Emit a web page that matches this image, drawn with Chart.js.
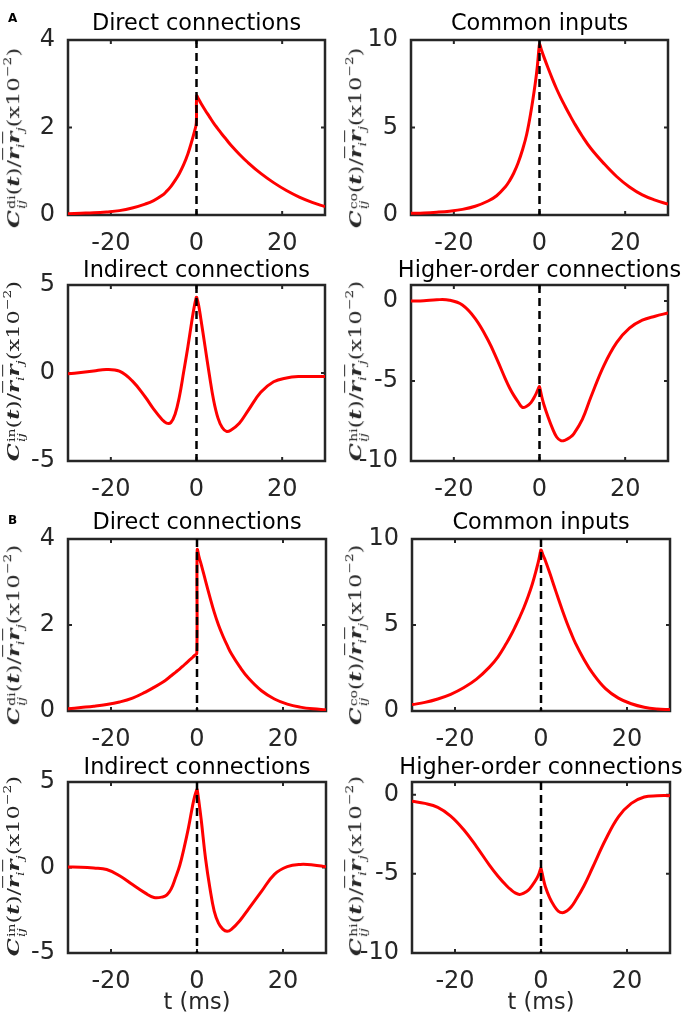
<!DOCTYPE html>
<html>
<head>
<meta charset="utf-8">
<script src="https://cdn.jsdelivr.net/npm/chart.js@4.4.1/dist/chart.umd.min.js"></script>
<style>
  html, body { margin: 0; padding: 0; background: #fff; }
  body { width: 686px; height: 1023px; position: relative; overflow: hidden; font-family: "DejaVu Sans", sans-serif; }
  canvas { position: absolute; }
  .letter { position: absolute; font: bold 12px/12px "DejaVu Sans", sans-serif; color: #000; }
  .ylab { position: absolute; white-space: nowrap; font-family: "DejaVu Serif", serif; font-size: 17px; line-height: 1; color: #262626; transform-origin: 50% 50%; }
  .ylab .bi { font-weight: bold; font-style: italic; }
  .ylab .ov { text-decoration: overline; }
  .ylab .ss { display: inline-block; vertical-align: -0.55em; font-size: 0.62em; line-height: 0.95; margin-left: 1px; }
  .ylab .ss span { display: block; }
  .ylab .it { font-style: italic; }
  .ylab .sb1 { font-size: 0.62em; font-style: italic; vertical-align: -0.45em; }
  .ylab .sp2 { font-size: 0.62em; vertical-align: 0.75em; }
</style>
</head>
<body>
<script>
// time axis (ms) and the eight curves
const tMs = [-30, -27, -24, -21, -18, -15, -12, -10, -8, -7, -6, -5, -4, -3, -2, -1, -0.5, -0.05,
             0.05, 0.5, 1, 2, 3, 4, 5, 6, 7, 8, 10, 12, 15, 18, 21, 24, 27, 30];

const aDirect   = [0.03, 0.04, 0.05, 0.07, 0.10, 0.16, 0.25, 0.33, 0.45, 0.54, 0.65, 0.79, 0.95, 1.15, 1.40, 1.72, 1.90, 2.10,
                   2.72, 2.65, 2.56, 2.40, 2.25, 2.10, 1.97, 1.84, 1.72, 1.60, 1.39, 1.20, 0.95, 0.74, 0.56, 0.41, 0.29, 0.19];
const aCommon   = [0.10, 0.12, 0.16, 0.22, 0.32, 0.50, 0.80, 1.10, 1.60, 1.95, 2.40, 2.97, 3.70, 4.60, 5.90, 7.50, 8.50, 9.70,
                   9.75, 9.40, 9.05, 8.40, 7.78, 7.20, 6.68, 6.20, 5.74, 5.30, 4.50, 3.80, 2.95, 2.20, 1.60, 1.15, 0.85, 0.62];
const aIndirect = [-0.05, 0.03, 0.12, 0.20, 0.10, -0.45, -1.35, -2.05, -2.65, -2.85, -2.82, -2.34, -1.35, 0.05, 1.50, 3.10, 3.80, 4.30,
                   4.30, 3.85, 3.10, 1.50, -0.10, -1.55, -2.55, -3.10, -3.32, -3.25, -2.85, -2.15, -1.10, -0.50, -0.28, -0.20, -0.20, -0.20];
const aHigher   = [0.00, 0.02, 0.08, 0.05, -0.25, -1.10, -2.45, -3.60, -4.85, -5.42, -5.90, -6.30, -6.65, -6.58, -6.35, -5.90, -5.62, -5.35,
                   -5.40, -5.95, -6.45, -7.25, -7.95, -8.50, -8.73, -8.70, -8.55, -8.30, -7.40, -6.00, -4.05, -2.60, -1.70, -1.20, -0.95, -0.75];
const bDirect   = [0.05, 0.08, 0.11, 0.15, 0.21, 0.30, 0.44, 0.55, 0.67, 0.74, 0.82, 0.90, 0.98, 1.07, 1.16, 1.25, 1.30, 1.34,
                   3.75, 3.57, 3.40, 3.02, 2.65, 2.30, 2.00, 1.75, 1.53, 1.33, 1.02, 0.76, 0.47, 0.28, 0.16, 0.09, 0.05, 0.03];
const bCommon   = [0.37, 0.50, 0.70, 0.97, 1.35, 1.85, 2.55, 3.15, 3.95, 4.40, 4.90, 5.43, 6.00, 6.65, 7.40, 8.30, 8.80, 9.35,
                   9.35, 9.05, 8.75, 8.05, 7.30, 6.55, 5.83, 5.15, 4.53, 3.95, 3.00, 2.20, 1.30, 0.75, 0.42, 0.22, 0.12, 0.08];
const bIndirect = [0.03, 0.02, -0.03, -0.12, -0.48, -1.00, -1.50, -1.75, -1.72, -1.60, -1.25, -0.60, 0.13, 1.15, 2.30, 3.65, 4.20, 4.55,
                   4.55, 3.75, 2.75, 0.50, -1.20, -2.55, -3.25, -3.60, -3.73, -3.62, -3.10, -2.42, -1.40, -0.40, 0.05, 0.18, 0.15, 0.04];
const bHigher   = [-0.42, -0.55, -0.80, -1.35, -2.20, -3.28, -4.45, -5.15, -5.75, -6.00, -6.20, -6.30, -6.22, -6.05, -5.72, -5.30, -5.02, -4.65,
                   -4.70, -5.25, -5.80, -6.50, -7.00, -7.35, -7.46, -7.35, -7.10, -6.70, -5.75, -4.60, -2.85, -1.40, -0.55, -0.15, -0.07, -0.06];

const xRange = [-30, 30];
const xTicks = [-20, 0, 20];
const zeroLag = 0;
const ticksDirect = [0, 2, 4];
const ticksCommon = [0, 5, 10];
const ticksIndirect = [-5, 0, 5];
const ticksHigher = [-10, -5, 0];

const panels = [
  { values: aDirect,   title: "Direct connections",       sup: "di", yMin: 0,   yMax: 4,   yTicks: ticksDirect },
  { values: aCommon,   title: "Common inputs",            sup: "co", yMin: 0,   yMax: 10,  yTicks: ticksCommon },
  { values: aIndirect, title: "Indirect connections",     sup: "in", yMin: -5,  yMax: 5,   yTicks: ticksIndirect },
  { values: aHigher,   title: "Higher-order connections", sup: "hi", yMin: -10, yMax: 1,   yTicks: ticksHigher },
  { values: bDirect,   title: "Direct connections",       sup: "di", yMin: 0,   yMax: 4,   yTicks: ticksDirect },
  { values: bCommon,   title: "Common inputs",            sup: "co", yMin: 0,   yMax: 10,  yTicks: ticksCommon },
  { values: bIndirect, title: "Indirect connections",     sup: "in", yMin: -5,  yMax: 5,   yTicks: ticksIndirect, xTitle: true },
  { values: bHigher,   title: "Higher-order connections", sup: "hi", yMin: -10, yMax: 0.8, yTicks: ticksHigher,   xTitle: true }
];

// layout: plot boxes [left, top, width, height] in page pixels
const boxes = [
  [68, 40, 257, 175], [411, 40, 257, 175],
  [68, 285, 257, 176], [411, 285, 257, 176],
  [68, 539, 258, 172], [412, 539, 258, 172],
  [68, 782, 258, 171], [412, 782, 258, 171]
];
const titleGap = [2, 2, 0, 0, 2, 2, 0, 0];
const labelShift = [10, 10, -2, -2, 10, 10, -2, -2];

const axisColor = "#262626";
const FONT = "DejaVu Sans";
const SIDE_W = 64;   // y axis width, mirrored by an empty right axis so titles stay centred
const TICK_LEN = 4;

const matlabBox = {
  id: "matlabBox",
  beforeDatasetsDraw(chart) {
    const { ctx, chartArea: a, scales: { x, y } } = chart;
    ctx.save();
    ctx.strokeStyle = axisColor;
    ctx.lineWidth = 2.5;
    ctx.strokeRect(a.left, a.top, a.right - a.left, a.bottom - a.top);
    ctx.lineWidth = 2;
    ctx.beginPath();
    x.ticks.forEach(tk => {
      const px = x.getPixelForValue(tk.value);
      ctx.moveTo(px, a.bottom); ctx.lineTo(px, a.bottom - TICK_LEN);
      ctx.moveTo(px, a.top); ctx.lineTo(px, a.top + TICK_LEN);
    });
    y.ticks.forEach(tk => {
      const py = y.getPixelForValue(tk.value);
      ctx.moveTo(a.left, py); ctx.lineTo(a.left + TICK_LEN, py);
      ctx.moveTo(a.right, py); ctx.lineTo(a.right - TICK_LEN, py);
    });
    ctx.stroke();
    ctx.restore();
  }
};

function yLabelHtml(sup) {
  return '<span class="bi">C</span><span class="ss"><span>' + sup + '</span><span class="it">ij</span></span>' +
    '(<span class="bi">t</span>)/' +
    '<span class="bi ov">r</span><span class="sb1">i</span><span class="bi ov">r</span><span class="sb1">j</span>' +
    '(x10<span class="sp2">\u22122</span>)';
}

panels.forEach((p, i) => {
  const [L, T, W, H] = boxes[i];
  const xH = p.xTitle ? 70 : 46;
  const titleH = 28 + titleGap[i];
  const cv = document.createElement("canvas");
  const cw = SIDE_W + W + SIDE_W, ch = titleH + H + xH;
  cv.width = cw; cv.height = ch;
  cv.style.left = (L - SIDE_W) + "px";
  cv.style.top = (T - titleH) + "px";
  cv.style.width = cw + "px"; cv.style.height = ch + "px";
  document.body.appendChild(cv);

  new Chart(cv, {
    type: "line",
    data: {
      datasets: [
        {
          data: [{ x: zeroLag, y: p.yMax }, { x: zeroLag, y: p.yMin }],
          borderColor: "#000", borderWidth: 2.5, borderDash: [8, 5],
          pointRadius: 0, order: 0
        },
        {
          data: tMs.map((t, k) => ({ x: t, y: p.values[k] })),
          borderColor: "#ff0000", borderWidth: 3, pointRadius: 0,
          tension: 0.4, fill: false, order: 1
        }
      ]
    },
    options: {
      responsive: false,
      animation: false,
      events: [],
      layout: { padding: 0 },
      plugins: {
        legend: { display: false },
        tooltip: { enabled: false },
        title: {
          display: true, text: p.title, color: "#000",
          font: { family: FONT, size: 22.4, weight: "normal", lineHeight: "28px" },
          padding: { top: 0, bottom: titleGap[i] }
        }
      },
      scales: {
        x: {
          type: "linear", min: xRange[0], max: xRange[1],
          afterBuildTicks: s => { s.ticks = xTicks.map(v => ({ value: v })); },
          afterFit: s => { s.height = xH; },
          grid: { display: false, drawTicks: false },
          border: { display: false },
          ticks: {
            padding: 14, color: axisColor, autoSkip: false, maxRotation: 0,
            font: { family: FONT, size: 24 }, callback: v => String(v)
          },
          title: {
            display: !!p.xTitle, text: "t (ms)", color: axisColor,
            font: { family: FONT, size: 22.4, lineHeight: "28px" },
            padding: { top: 0, bottom: 6 }
          }
        },
        y: {
          type: "linear", min: p.yMin, max: p.yMax,
          afterBuildTicks: s => { s.ticks = p.yTicks.map(v => ({ value: v })); },
          afterFit: s => { s.width = SIDE_W; },
          grid: { display: false, drawTicks: false },
          border: { display: false },
          ticks: {
            padding: 13, color: axisColor, autoSkip: false,
            font: { family: FONT, size: 24 }, callback: v => String(v)
          }
        },
        yRight: {
          type: "linear", position: "right", min: p.yMin, max: p.yMax,
          afterFit: s => { s.width = SIDE_W; },
          grid: { display: false, drawTicks: false },
          border: { display: false },
          ticks: { display: false }
        }
      }
    },
    plugins: [matlabBox]
  });

  // rotated y label
  const lab = document.createElement("div");
  lab.className = "ylab";
  lab.innerHTML = yLabelHtml(p.sup);
  document.body.appendChild(lab);
  const cx = i % 2 === 0 ? 14 : 356;
  const cy = T + H / 2 + labelShift[i];
  lab.style.left = cx + "px";
  lab.style.top = cy + "px";
  const k = 180 / lab.offsetWidth;
  lab.style.transform = "translate(-50%, -50%) rotate(-90deg) scaleX(" + k.toFixed(3) + ")";
});

[["A", 12], ["B", 514]].forEach(([txt, top]) => {
  const d = document.createElement("div");
  d.className = "letter";
  d.textContent = txt;
  d.style.left = "8px";
  d.style.top = top + "px";
  document.body.appendChild(d);
});
</script>
</body>
</html>
